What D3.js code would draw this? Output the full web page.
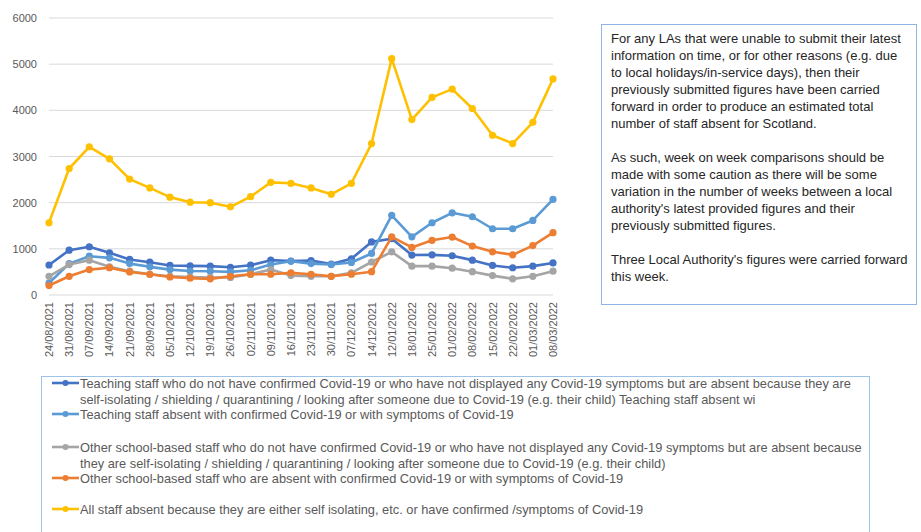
<!DOCTYPE html>
<html>
<head>
<meta charset="utf-8">
<script src="https://cdn.jsdelivr.net/npm/d3@7"></script>
<style>
  body { margin: 0; background: #fff; }
  text { font-family: "Liberation Sans", Arial, sans-serif; }
</style>
</head>
<body>
<script>
const weeks = ["24/08/2021","31/08/2021","07/09/2021","14/09/2021","21/09/2021","28/09/2021","05/10/2021",
    "12/10/2021","19/10/2021","26/10/2021","02/11/2021","09/11/2021","16/11/2021","23/11/2021","30/11/2021",
    "07/12/2021","14/12/2021","12/01/2022","18/01/2022","25/01/2022","01/02/2022","08/02/2022","15/02/2022",
    "22/02/2022","01/03/2022","08/03/2022"];

const teachingIsolating = [650,970,1045,915,770,710,640,630,625,600,645,755,735,745,670,785,1150,1220,865,870,850,755,640,590,625,695];
const teachingConfirmed = [260,680,840,805,680,610,550,520,515,500,535,660,730,680,660,705,900,1725,1260,1565,1780,1695,1435,1435,1615,2070];
const otherIsolating = [405,660,755,610,515,450,405,390,380,380,450,550,420,405,405,480,715,935,625,625,580,505,420,350,405,515];
const otherConfirmed = [205,405,550,590,500,450,390,365,350,405,450,450,480,450,405,450,505,1260,1030,1185,1255,1060,935,870,1070,1350];
const allStaff = [1565,2740,3210,2950,2510,2320,2120,2010,2000,1910,2130,2440,2420,2320,2180,2420,3280,5120,3800,4280,4460,4040,3460,3280,3740,4680];

const yTicks = [0,1000,2000,3000,4000,5000,6000];

const seriesNames = [
    ["Teaching staff who do not have confirmed Covid-19 or who have not displayed any Covid-19 symptoms but are absent because they are",
     "self-isolating / shielding / quarantining / looking after someone due to Covid-19 (e.g. their child) Teaching staff absent wi"],
    ["Teaching staff absent with confirmed Covid-19 or with symptoms of Covid-19"],
    ["Other school-based staff who do not have confirmed Covid-19 or who have not displayed any Covid-19 symptoms but are absent because",
     "they are self-isolating / shielding / quarantining / looking after someone due to Covid-19 (e.g. their child)"],
    ["Other school-based staff who are absent with confirmed Covid-19 or with symptoms of Covid-19"],
    ["All staff absent because they are either self isolating, etc. or have confirmed /symptoms of Covid-19"]
];
const colors = ["#4472c4","#5b9bd5","#a5a5a5","#ed7d31","#ffc000"];

const noteParas = [
    ["For any LAs that were unable to submit their latest","information on time, or for other reasons (e.g. due",
     "to local holidays/in-service days), then their","previously submitted figures have been carried",
     "forward in order to produce an estimated total","number of staff absent for Scotland."],
    ["As such, week on week comparisons should be","made with some caution as there will be some",
     "variation in the number of weeks between a local","authority's latest provided figures and their",
     "previously submitted figures."],
    ["Three Local Authority's figures were carried forward","this week."]
];

const series = [teachingIsolating, teachingConfirmed, otherIsolating, otherConfirmed, allStaff];

const W = 921, H = 532;
const svg = d3.select("body").append("svg").attr("width", W).attr("height", H);

const x = d3.scalePoint().domain(weeks).range([49, 553]);
const y = d3.scaleLinear().domain([0, 6000]).range([295, 18]);

// gridlines + y labels
svg.append("g").selectAll("line").data(yTicks).enter().append("line")
    .attr("x1", 49).attr("x2", 553)
    .attr("y1", d => y(d)).attr("y2", d => y(d))
    .attr("stroke", "#d9d9d9").attr("stroke-width", 1);

svg.append("g").selectAll("text").data(yTicks).enter().append("text")
    .attr("x", 37).attr("y", d => y(d) + 4)
    .attr("text-anchor", "end")
    .attr("font-size", 11).attr("fill", "#595959")
    .text(d => d);

// x labels
svg.append("g").selectAll("text").data(weeks).enter().append("text")
    .attr("transform", d => `translate(${x(d) + 4},302) rotate(-90)`)
    .attr("text-anchor", "end")
    .attr("font-size", 11).attr("fill", "#595959")
    .text(d => d);

const line = d3.line().x((d, i) => x(weeks[i])).y(d => y(d));

series.forEach((s, k) => {
    const g = svg.append("g");
    g.append("path").datum(s)
        .attr("d", line).attr("fill", "none")
        .attr("stroke", colors[k]).attr("stroke-width", 2.6)
        .attr("stroke-linejoin", "round");
    g.selectAll("circle").data(s).enter().append("circle")
        .attr("cx", (d, i) => x(weeks[i])).attr("cy", d => y(d))
        .attr("r", 3.6).attr("fill", colors[k]);
});

// legend
svg.append("rect").attr("x", 41.5).attr("y", 376.5).attr("width", 828).attr("height", 170)
    .attr("fill", "none").attr("stroke", "#9dc3e6").attr("stroke-width", 1);

const legendY = [383, 414, 447, 478, 509];
const legend = svg.append("g");
seriesNames.forEach((lines, k) => {
    const cy = legendY[k];
    legend.append("line").attr("x1", 52).attr("x2", 79).attr("y1", cy).attr("y2", cy)
        .attr("stroke", colors[k]).attr("stroke-width", 2.6);
    legend.append("circle").attr("cx", 65.5).attr("cy", cy).attr("r", 3).attr("fill", colors[k]);
    lines.forEach((t, j) => {
        legend.append("text").attr("x", 80).attr("y", cy + 4.5 + j * 16.5)
            .attr("font-size", 12.8).attr("fill", "#595959").text(t);
    });
});

// note box
svg.append("rect").attr("x", 601.5).attr("y", 24.5).attr("width", 315).attr("height", 280)
    .attr("fill", "#fff").attr("stroke", "#8fb4e3").attr("stroke-width", 1);

const note = svg.append("g");
let ly = 43;
noteParas.forEach(p => {
    p.forEach(t => {
        note.append("text").attr("x", 611).attr("y", ly)
            .attr("font-size", 13).attr("fill", "#262626").text(t);
        ly += 17;
    });
    ly += 17;
});
</script>
</body>
</html>
